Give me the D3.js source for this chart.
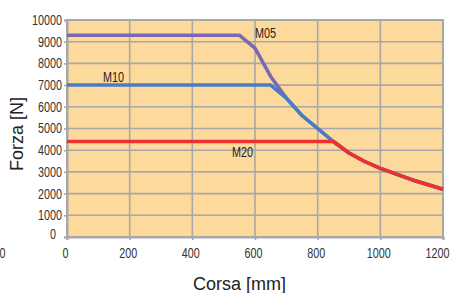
<!DOCTYPE html>
<html>
<head>
	<title>Forza / Corsa</title>
	<style>
		body {
			margin: 0;
			background: #ffffff;
		}
		.tick text {
			font-family: "Liberation Sans", Arial, sans-serif;
			font-size: 14px;
			fill: #333333;
		}
		.title {
			font-family: "Liberation Sans", Arial, sans-serif;
			font-size: 18px;
			fill: #222222;
		}
		.lab {
			font-family: "Liberation Sans", Arial, sans-serif;
			font-size: 14px;
			fill: #222222;
		}
	</style>
</head>
<body>
	<script src="https://d3js.org/d3.v7.min.js"></script>
	<script type="text/javascript">
		// corsa [mm]
		var corsa = [0, 550, 600, 650, 700, 750, 800, 850, 900, 950, 1000, 1100, 1200];
		var xTicks = [0, 200, 400, 600, 800, 1000, 1200];
		var yTicks = [0, 1000, 2000, 3000, 4000, 5000, 6000, 7000, 8000, 9000, 10000];

		// forza [N] for each screw
		var m05 = [9300, 9300, 8700, 7400, 6400, 5600, 5000, 4400, 3870, 3480, 3160, 2640, 2200];
		var m10 = [7000, 7000, 7000, 7000, 6400, 5600, 5000, 4400, 3870, 3480, 3160, 2640, 2200];
		var m20 = [4400, 4400, 4400, 4400, 4400, 4400, 4400, 4400, 3870, 3480, 3160, 2640, 2200];

		var names = ["M05", "M10", "M20"];
		var colors = ["#7a68b2", "#4a7cc5", "#ee3030"];

		var width = 451;
		var height = 293;
		var plotLeft = 67, plotRight = 443, plotTop = 20, plotBottom = 237;
		var charW = 6.0; // narrow glyphs, like the original

		var svg = d3.select("body").append("svg")
			.attr("width", width)
			.attr("height", height);

		var x = d3.scaleLinear().domain([0, 1200]).range([plotLeft, plotRight]);
		var y = d3.scaleLinear().domain([0, 10000]).range([plotBottom, plotTop]);

		svg.append("rect")
			.attr("x", plotLeft)
			.attr("y", plotTop)
			.attr("width", plotRight - plotLeft)
			.attr("height", plotBottom - plotTop)
			.style("fill", "#fdd99c")
			.style("stroke", "#a8a8a8")
			.style("stroke-width", 2);

		// grid
		svg.append("g").selectAll("line").data(yTicks).enter().append("line")
			.attr("x1", plotLeft).attr("x2", plotRight)
			.attr("y1", function(d) { return y(d); })
			.attr("y2", function(d) { return y(d); })
			.style("stroke", "#a8a8a8")
			.style("stroke-width", 1.6);
		svg.append("g").selectAll("line").data(xTicks).enter().append("line")
			.attr("y1", plotTop).attr("y2", plotBottom)
			.attr("x1", function(d) { return x(d); })
			.attr("x2", function(d) { return x(d); })
			.style("stroke", "#a8a8a8")
			.style("stroke-width", 1.6);

		// axes
		var fmt = d3.format("d");
		var xAxis = svg.append("g")
			.attr("transform", "translate(0," + plotBottom + ")")
			.call(d3.axisBottom(x).tickValues(xTicks).tickFormat(fmt).tickSize(3).tickPadding(8));
		var yAxis = svg.append("g")
			.attr("transform", "translate(" + plotLeft + ",0)")
			.call(d3.axisLeft(y).tickValues(yTicks).tickFormat(fmt).tickSize(3).tickPadding(2));
		svg.selectAll(".domain").style("stroke", "#a8a8a8").style("stroke-width", 2);
		svg.selectAll(".tick line").style("stroke", "#a8a8a8").style("stroke-width", 1.6);
		svg.selectAll(".tick text")
			.attr("textLength", function(d) { return fmt(d).length * charW; })
			.attr("lengthAdjust", "spacingAndGlyphs");
		xAxis.selectAll(".tick text").attr("dx", function(d) { return d === 1200 ? -6 : -2; });
		yAxis.selectAll(".tick text").filter(function(d) { return d === 0; }).attr("dx", -6).attr("dy", "0.1em");

		// stray zero at the left edge
		svg.append("text")
			.attr("class", "lab")
			.attr("x", 2.5)
			.attr("y", 258)
			.attr("text-anchor", "middle")
			.attr("textLength", charW)
			.attr("lengthAdjust", "spacingAndGlyphs")
			.style("fill", "#333333")
			.text("0");

		// curves
		var series = [m05, m10, m20];
		var line = d3.line()
			.x(function(d, i) { return x(corsa[i]); })
			.y(function(d) { return y(d); });
		series.forEach(function(s, k) {
			svg.append("path")
				.attr("d", line(s))
				.style("fill", "none")
				.style("stroke", colors[k])
				.style("stroke-width", 3.5)
				.style("stroke-linejoin", "round");
		});

		// curve labels
		var labX = [255, 103, 232];
		var labY = [38, 82, 157];
		names.forEach(function(n, k) {
			svg.append("text")
				.attr("class", "lab")
				.attr("x", labX[k])
				.attr("y", labY[k])
				.attr("textLength", 21)
				.attr("lengthAdjust", "spacingAndGlyphs")
				.text(n);
		});

		svg.append("text")
			.attr("class", "title")
			.attr("x", 239.5)
			.attr("y", 290)
			.attr("text-anchor", "middle")
			.text("Corsa [mm]");

		svg.append("text")
			.attr("class", "title")
			.attr("transform", "translate(23,134) rotate(-90)")
			.attr("text-anchor", "middle")
			.text("Forza [N]");
	</script>
</body>
</html>
